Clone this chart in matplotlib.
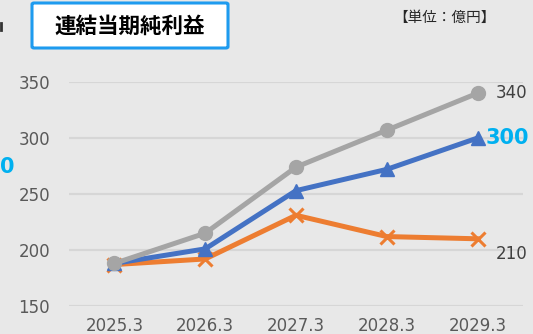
import matplotlib.pyplot as plt
from matplotlib.patches import FancyBboxPatch
from matplotlib.lines import Line2D

######################### Data #############################

years = ["2025.3", "2026.3", "2027.3", "2028.3", "2029.3"]
gray_vals = [188, 215, 274, 307, 340]
blue_vals = [188, 201, 253, 272, 300]
orange_vals = [187, 192, 231, 212, 210]
y_ticks = [150, 200, 250, 300, 350]

title = "連結当期純利益"
unit = "【単位：億円】"

######################### Plotting #########################

bg = "#E8E8E8"
jp = ["Noto Sans CJK JP", "DejaVu Sans"]

fig = plt.figure(figsize=(5.33, 3.34), dpi=100, facecolor=bg)
ax = fig.add_axes([69/533, 1-306/334, 454/533, 224/334], facecolor=bg)

x = list(range(len(years)))
# Excel draws later series on top: orange, blue, gray
ax.plot(x, orange_vals, color="#ED7D31", lw=3.6, marker="x", ms=10, mew=2.2,
        clip_on=False, zorder=3)
ax.plot(x, blue_vals, color="#4472C4", lw=3.6, marker="^", ms=10,
        clip_on=False, zorder=4)
ax.plot(x, gray_vals, color="#A5A5A5", lw=3.6, marker="o", ms=10,
        clip_on=False, zorder=5)

ax.set_xlim(-0.5, len(years) - 0.5)
ax.set_ylim(150, 350)
ax.set_yticks(y_ticks)
ax.set_xticks(x)
ax.set_xticklabels(years)
ax.grid(axis="y", color="#D6D6D6", lw=1.6)
ax.set_axisbelow(True)
for s in ax.spines.values():
    s.set_visible(False)
ax.tick_params(length=0, colors="#595959", labelsize=12)
ax.tick_params(axis="y", pad=13.5)
ax.tick_params(axis="x", pad=8)

# end-of-line value labels
ax.annotate(str(gray_vals[-1]), (x[-1], gray_vals[-1]), xytext=(13, 0),
            textcoords="offset points", va="center", ha="left",
            fontsize=12, color="#404040")
ax.annotate(str(blue_vals[-1]), (x[-1], blue_vals[-1]), xytext=(6, 0),
            textcoords="offset points", va="center", ha="left",
            fontsize=15, color="#00B0F0", fontweight="bold")
ax.annotate(str(orange_vals[-1]), (x[-1], orange_vals[-1]), xytext=(13, -11),
            textcoords="offset points", va="center", ha="left",
            fontsize=12, color="#404040")

# title box
box = FancyBboxPatch((32/533, 1-48/334), 196/533, 45/334,
                     boxstyle="round,pad=0,rounding_size=0.004",
                     transform=fig.transFigure, facecolor="white",
                     edgecolor="#1E9BEF", lw=2.2)
fig.patches.append(box)
fig.text(130/533, 1-26/334, title, ha="center", va="center", fontsize=15.5,
         fontweight="bold", family=jp, color="black")
fig.text(444/533, 1-18/334, unit, ha="center", va="center", fontsize=10.5,
         family=jp, color="#262626")

# pieces of the neighbouring panel at the left edge
fig.text(0, 1-167/334, "0", ha="left", va="center", fontsize=15,
         color="#00B0F0", fontweight="bold")
fig.add_artist(Line2D([1/533, 1/533], [1-23/334, 1-30/334], color="#333333",
                      lw=2, transform=fig.transFigure))

fig.savefig("out.png", dpi=100, facecolor=bg)
